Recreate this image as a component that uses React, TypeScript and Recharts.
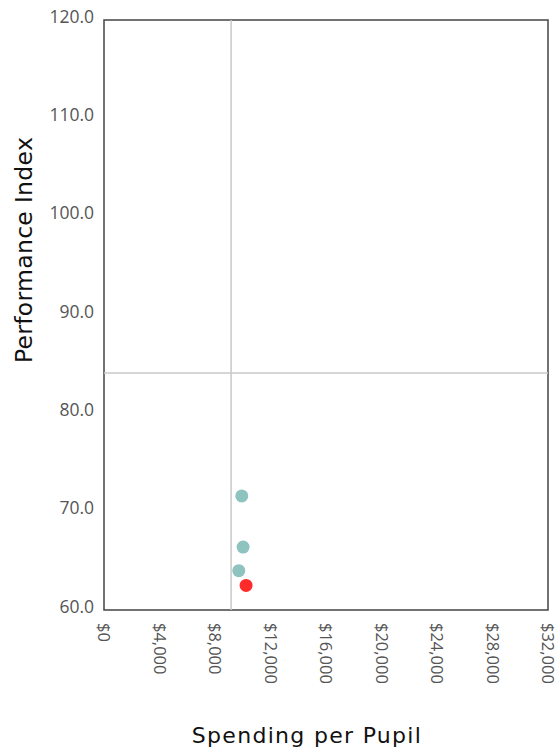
import { ScatterChart, Scatter, XAxis, YAxis, ReferenceLine, ReferenceArea, Cell } from 'recharts'

const SPENDING = [9930, 10025, 9715, 10240]
const PERFORMANCE = [71.6, 66.4, 64.0, 62.5]
const HIGHLIGHT = [false, false, false, true]
const X_TICKS = [0, 4000, 8000, 12000, 16000, 20000, 24000, 28000, 32000]
const Y_TICKS = [60, 70, 80, 90, 100, 110, 120]
const AVG_SPENDING = 9160
const AVG_PERFORMANCE = 84.1

const TEAL = '#8ec3bf'
const RED = '#ff2b2b'
const TICK_FONT = '"Open Sans", sans-serif'
const TITLE_FONT = '"DejaVu Sans", sans-serif'

const points = SPENDING.map((x, i) => ({ x, y: PERFORMANCE[i], hi: HIGHLIGHT[i] }))

// eslint-disable-next-line @typescript-eslint/no-explicit-any
function XTick({ x, y, payload }: any) {
  const label = '$' + Number(payload.value).toLocaleString('en-US')
  const cx = x + 0.5
  const cy = y + 5
  return (
    <text x={cx} y={cy} transform={`rotate(90, ${cx}, ${cy})`} textAnchor="start" dominantBaseline="central" fontSize={16.5} fill="#555" fontFamily={TICK_FONT}>
      {label}
    </text>
  )
}

// eslint-disable-next-line @typescript-eslint/no-explicit-any
function YTick({ x, y, payload }: any) {
  return (
    <text x={x - 2} y={y + 2.5} textAnchor="end" fontSize={17.5} fill="#555" fontFamily={TICK_FONT}>
      {Number(payload.value).toFixed(1)}
    </text>
  )
}

export default function App() {
  return (
    <div style={{ position: 'absolute', left: 0, top: 0, background: '#fff' }}>
      <ScatterChart width={557} height={755} margin={{ top: 20, right: 9, left: 0, bottom: 0 }}>
        <XAxis type="number" dataKey="x" domain={[0, 32000]} ticks={X_TICKS} tick={<XTick />} axisLine={false} tickLine={false} height={145} interval={0} />
        <YAxis type="number" dataKey="y" domain={[60, 120]} ticks={Y_TICKS} width={104} axisLine={false} tickLine={false} interval={0} tick={<YTick />} />
        <ReferenceLine x={AVG_SPENDING} stroke="#c8c8c8" strokeWidth={1.5} />
        <ReferenceLine y={AVG_PERFORMANCE} stroke="#c8c8c8" strokeWidth={1.5} />
        <ReferenceArea x1={0} x2={32000} y1={60} y2={120} fill="none" stroke="#444" strokeWidth={1.5} />
        <Scatter data={points} isAnimationActive={false}
          // eslint-disable-next-line @typescript-eslint/no-explicit-any
          shape={(p: any) => <circle cx={p.cx} cy={p.cy} r={6.5} fill={p.fill} />}>
          {points.map((d, i) => <Cell key={i} fill={d.hi ? RED : TEAL} />)}
        </Scatter>
        <text x={32} y={250} transform="rotate(-90, 32, 250)" textAnchor="middle" fontSize={23.5} letterSpacing={0.3} fill="#111" fontFamily={TITLE_FONT}>
          Performance Index
        </text>
        <text x={307} y={743} textAnchor="middle" fontSize={22} letterSpacing={1.3} fill="#111" fontFamily={TITLE_FONT}>
          Spending per Pupil
        </text>
      </ScatterChart>
    </div>
  )
}
